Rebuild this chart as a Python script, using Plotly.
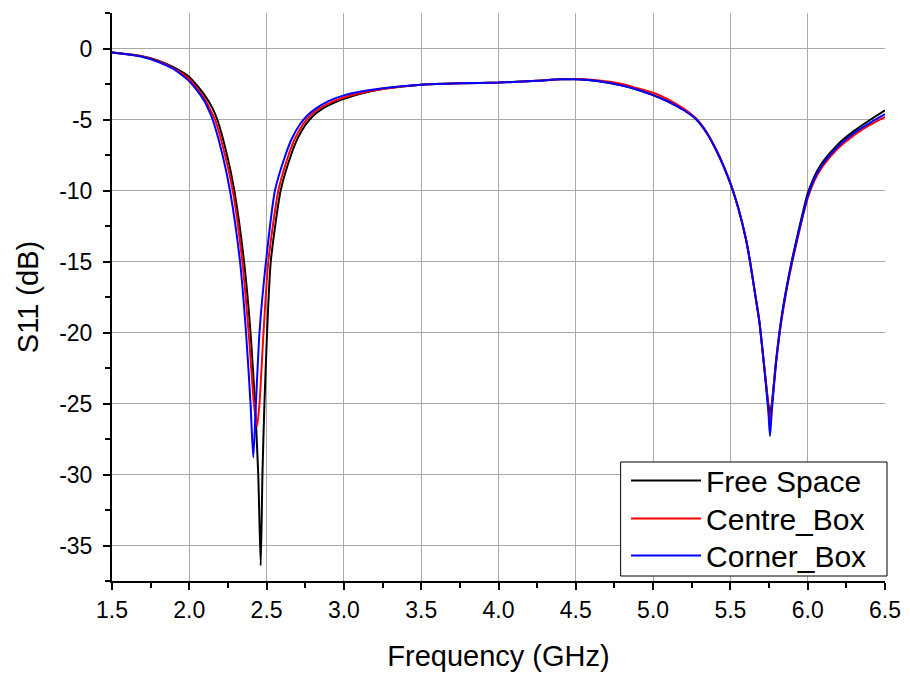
import plotly.graph_objects as go

# Free Space
f_free = [1.5, 1.68, 1.8, 1.9, 2.0, 2.05, 2.1, 2.15, 2.181, 2.244, 2.291, 2.354, 2.396, 2.425,
          2.446, 2.462, 2.473, 2.486, 2.503, 2.527, 2.591, 2.658, 2.7, 2.75, 2.8, 2.85, 2.942,
          3.0, 3.1, 3.25, 3.5, 3.75, 4.0, 4.25, 4.4, 4.5, 4.65, 4.8, 4.9, 5.0, 5.1, 5.2, 5.28,
          5.35, 5.41, 5.46, 5.5, 5.55, 5.6, 5.627, 5.66, 5.687, 5.72, 5.745, 5.756, 5.768, 5.795,
          5.827, 5.86, 5.896, 5.95, 6.0, 6.03, 6.06, 6.1, 6.2, 6.3, 6.4, 6.5]
s_free = [-0.28, -0.51, -0.85, -1.33, -2.0, -2.6, -3.3, -4.2, -5.0, -7.5, -10.0, -15.0, -20.0, -25.0,
          -30.0, -36.4, -30.0, -25.0, -20.0, -15.0, -10.0, -7.5, -6.35, -5.4, -4.75, -4.32, -3.8,
          -3.55, -3.2, -2.85, -2.55, -2.45, -2.4, -2.27, -2.17, -2.17, -2.3, -2.6, -2.9, -3.28,
          -3.75, -4.35, -5.0, -6.0, -7.2, -8.4, -9.5, -11.2, -13.4, -15.0, -17.3, -19.2, -22.5,
          -25.0, -25.7, -25.0, -22.0, -19.2, -17.0, -15.0, -12.4, -10.2, -9.35, -8.65, -7.95, -6.7,
          -5.8, -5.05, -4.35]

# Centre_Box
f_centre = [1.5, 1.68, 1.8, 1.9, 2.0, 2.05, 2.1, 2.14, 2.166, 2.231, 2.281, 2.343, 2.384, 2.418,
            2.438, 2.454, 2.48, 2.511, 2.576, 2.642, 2.685, 2.735, 2.785, 2.835, 2.93,
            3.0, 3.1, 3.25, 3.5, 3.75, 4.0, 4.25, 4.4, 4.5, 4.65, 4.8, 4.9, 5.0, 5.1, 5.2, 5.28,
            5.35, 5.41, 5.46, 5.5, 5.55, 5.6, 5.627, 5.66, 5.687, 5.72, 5.745, 5.756, 5.768, 5.795,
            5.827, 5.86, 5.896, 5.95, 6.0, 6.03, 6.06, 6.1, 6.2, 6.3, 6.4, 6.5]
s_centre = [-0.28, -0.53, -0.9, -1.4, -2.15, -2.8, -3.55, -4.4, -5.0, -7.5, -10.0, -15.0, -20.0, -25.0,
            -26.6, -25.0, -20.0, -15.0, -10.0, -7.5, -6.3, -5.35, -4.7, -4.27, -3.72,
            -3.45, -3.15, -2.85, -2.55, -2.45, -2.4, -2.27, -2.17, -2.15, -2.25, -2.5, -2.8, -3.12,
            -3.6, -4.25, -4.95, -5.95, -7.15, -8.35, -9.5, -11.2, -13.4, -15.0, -17.3, -19.2, -22.5,
            -25.2, -26.5, -25.2, -22.1, -19.4, -17.2, -15.25, -12.65, -10.55, -9.65, -8.95, -8.25, -7.0,
            -6.1, -5.4, -4.81]

# Corner_Box
f_corner = [1.5, 1.68, 1.8, 1.9, 2.0, 2.05, 2.1, 2.13, 2.151, 2.215, 2.263, 2.328, 2.367, 2.396,
            2.414, 2.431, 2.454, 2.496, 2.554, 2.622, 2.665, 2.715, 2.765, 2.815, 2.9,
            3.0, 3.1, 3.25, 3.5, 3.75, 4.0, 4.25, 4.4, 4.5, 4.65, 4.8, 4.9, 5.0, 5.1, 5.2, 5.28,
            5.35, 5.41, 5.46, 5.5, 5.55, 5.6, 5.627, 5.66, 5.687, 5.72, 5.745, 5.756, 5.768, 5.795,
            5.827, 5.86, 5.896, 5.95, 6.0, 6.03, 6.06, 6.1, 6.2, 6.3, 6.4, 6.5]
s_corner = [-0.28, -0.55, -0.95, -1.45, -2.3, -2.95, -3.75, -4.45, -5.0, -7.5, -10.0, -15.0, -20.0, -25.0,
            -28.8, -25.0, -20.0, -15.0, -10.0, -7.5, -6.3, -5.35, -4.7, -4.25, -3.7,
            -3.3, -3.05, -2.8, -2.55, -2.45, -2.4, -2.27, -2.17, -2.17, -2.3, -2.6, -2.9, -3.28,
            -3.75, -4.35, -5.0, -6.0, -7.2, -8.4, -9.5, -11.2, -13.4, -15.0, -17.3, -19.2, -22.6,
            -25.5, -27.3, -25.5, -22.2, -19.3, -17.1, -15.1, -12.55, -10.4, -9.5, -8.8, -8.1, -6.85,
            -5.95, -5.25, -4.62]

x_ticks = [1.5, 2.0, 2.5, 3.0, 3.5, 4.0, 4.5, 5.0, 5.5, 6.0, 6.5]
x_ticklabels = ["1.5", "2.0", "2.5", "3.0", "3.5", "4.0", "4.5", "5.0", "5.5", "6.0", "6.5"]
y_ticks = [0, -5, -10, -15, -20, -25, -30, -35]
y_ticklabels = ["0", "-5", "-10", "-15", "-20", "-25", "-30", "-35"]

FONT = "Liberation Sans, Arial, sans-serif"

# one legend per series so each row sits where the reference has it
legend_rows = [0.177, 0.110, 0.045]
legend_ids = ["legend", "legend2", "legend3"]

fig = go.Figure()
series = [("Free Space", f_free, s_free, "#000000"),
          ("Centre_Box", f_centre, s_centre, "#ff0000"),
          ("Corner_Box", f_corner, s_corner, "#0000ff")]
for (name, fx, sy, col), lid in zip(series, legend_ids):
    fig.add_trace(go.Scatter(x=fx, y=sy, mode="lines", name=name, legend=lid,
                             line=dict(color=col, width=2, shape="spline", smoothing=0.6)))

axis_common = dict(showline=True, linecolor="black", linewidth=2, ticks="outside",
                   tickcolor="black", tickwidth=2, ticklen=7, showgrid=True,
                   gridcolor="#a8a8a8", gridwidth=1, zeroline=False, automargin=False,
                   tickfont=dict(family=FONT, size=23, color="black"))

leg_common = dict(x=0.665, xanchor="left", yanchor="middle", borderwidth=0,
                  bgcolor="rgba(0,0,0,0)", font=dict(family=FONT, size=30, color="black"),
                  itemwidth=70)

fig.update_layout(
    width=910, height=677,
    margin=dict(l=112, r=25, t=13, b=96),
    paper_bgcolor="white", plot_bgcolor="white",
    font=dict(family=FONT, color="black"),
    xaxis=dict(range=[1.5, 6.5], tickvals=x_ticks, ticktext=x_ticklabels,
               minor=dict(ticks="outside", dtick=0.25, tick0=1.5, ticklen=5, tickwidth=2,
                          tickcolor="black", showgrid=False),
               title=dict(text="Frequency (GHz)", font=dict(family=FONT, size=29), standoff=24),
               **axis_common),
    yaxis=dict(range=[-37.5, 2.5], tickvals=y_ticks, ticktext=y_ticklabels,
               minor=dict(ticks="outside", dtick=2.5, tick0=0, ticklen=5, tickwidth=2,
                          tickcolor="black", showgrid=False),
               ticklabelstandoff=6,
               title=dict(text="S11 (dB)", font=dict(family=FONT, size=29), standoff=12),
               **axis_common),
    legend=dict(y=legend_rows[0], **leg_common),
    legend2=dict(y=legend_rows[1], **leg_common),
    legend3=dict(y=legend_rows[2], **leg_common),
    shapes=[dict(type="rect", xref="paper", yref="paper", x0=0.658, x1=1.0026,
                 y0=0.0088, y1=0.2095, line=dict(color="black", width=1),
                 fillcolor="white", layer="above")],
    showlegend=True,
)

fig.write_html("out.html")
